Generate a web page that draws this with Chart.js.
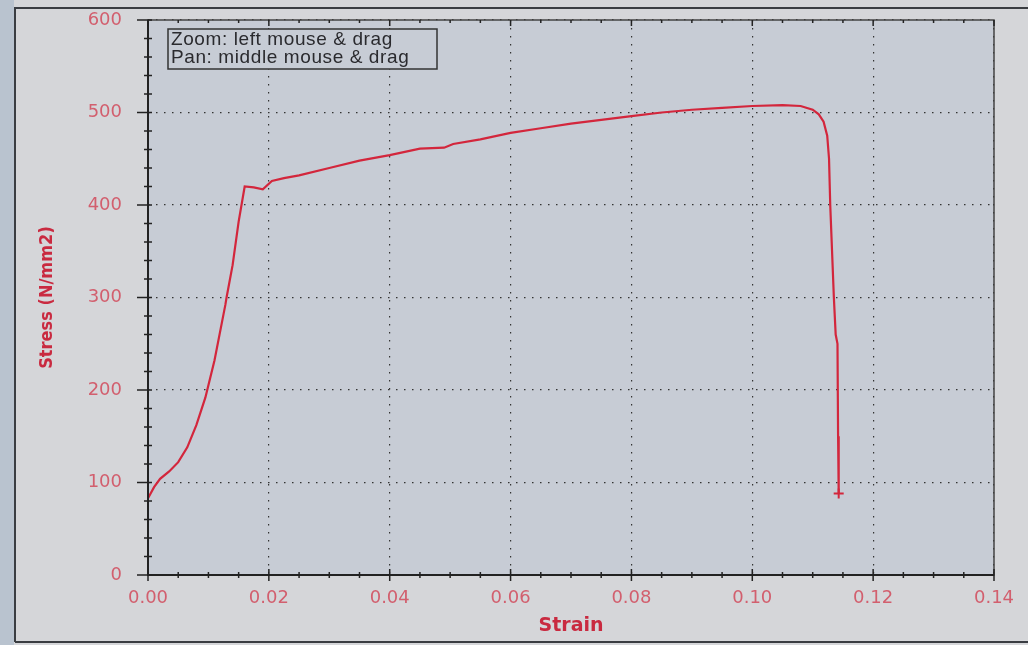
<!DOCTYPE html>
<html>
<head>
<meta charset="utf-8">
<script src="https://cdn.jsdelivr.net/npm/chart.js@4/dist/chart.umd.min.js"></script>
<style>
  html, body { margin: 0; padding: 0; background: #d5d6d9; }
  #wrap { width: 1028px; height: 645px; }
</style>
</head>
<body>
<div id="wrap"><canvas id="myChart" width="1028" height="645"></canvas></div>
<script>
// stress-strain test curve
const strain = [0, 0.001, 0.002, 0.0035, 0.005, 0.0065, 0.008, 0.0095, 0.011, 0.0125, 0.0128, 0.013, 0.014, 0.015, 0.016,
  0.0175, 0.019, 0.0205, 0.0225, 0.025, 0.03, 0.035, 0.04, 0.045, 0.049, 0.0505, 0.055, 0.06, 0.065, 0.07, 0.075,
  0.08, 0.085, 0.09, 0.095, 0.1, 0.105, 0.108, 0.11, 0.111, 0.1118, 0.1124, 0.1127, 0.1129, 0.1132, 0.1135, 0.1138,
  0.1141, 0.1142, 0.1143];
const stress = [83, 95, 104, 112, 122, 138, 162, 192, 232, 282, 292, 300, 335, 382, 420,
  419, 417, 426, 429, 432, 440, 448, 454, 461, 462, 466, 471, 478, 483, 488, 492,
  496, 500, 503, 505, 507, 508, 507, 503, 498, 490, 475, 450, 400, 350, 300, 260,
  250, 150, 88];

const xTicks = [0, 0.02, 0.04, 0.06, 0.08, 0.10, 0.12, 0.14];
const yTicks = [0, 100, 200, 300, 400, 500, 600];

const labelRed = '#d25f6e';
const titleRed = '#c92a40';

const points = strain.map((s, i) => ({ x: s, y: stress[i] }));

// plot background, outer frame, axes with minor ticks, hint box
const decor = {
  id: 'decor',
  beforeDraw(chart) {
    const { ctx, chartArea: a } = chart;
    ctx.save();
    ctx.fillStyle = '#d5d6d9';
    ctx.fillRect(0, 0, chart.width, chart.height);
    ctx.fillStyle = '#b9c3cf';
    ctx.fillRect(0, 0, 14, chart.height);
    ctx.strokeStyle = '#3a3d42';
    ctx.lineWidth = 2;
    ctx.beginPath();
    ctx.moveTo(15, chart.height - 3);
    ctx.lineTo(15, 8);
    ctx.lineTo(chart.width + 5, 8);
    ctx.stroke();
    ctx.beginPath();
    ctx.moveTo(15, chart.height - 3);
    ctx.lineTo(chart.width + 5, chart.height - 3);
    ctx.stroke();
    ctx.fillStyle = '#c7ccd5';
    ctx.fillRect(a.left, a.top, a.right - a.left, a.bottom - a.top);
    ctx.restore();
  },
  afterDatasetsDraw(chart) {
    const { ctx, chartArea: a, scales: { x, y } } = chart;
    ctx.save();
    // frame
    ctx.strokeStyle = '#444';
    ctx.lineWidth = 1.5;
    ctx.strokeRect(a.left, a.top, a.right - a.left, a.bottom - a.top);
    // main axes
    ctx.strokeStyle = '#222';
    ctx.lineWidth = 2;
    ctx.beginPath();
    ctx.moveTo(a.left, a.top);
    ctx.lineTo(a.left, a.bottom);
    ctx.lineTo(a.right, a.bottom);
    ctx.stroke();
    // y ticks
    ctx.lineWidth = 1.5;
    for (let v = 0; v <= 600; v += 20) {
      const py = y.getPixelForValue(v);
      const major = v % 100 === 0;
      ctx.beginPath();
      ctx.moveTo(a.left - (major ? 11 : 4), py);
      ctx.lineTo(a.left + 4, py);
      ctx.stroke();
    }
    // x ticks, bottom and top
    for (let i = 0; i <= 28; i++) {
      const px = x.getPixelForValue(i * 0.005);
      const major = i % 4 === 0;
      ctx.beginPath();
      ctx.moveTo(px, a.bottom - (major ? 6 : 3));
      ctx.lineTo(px, a.bottom + (major ? 6 : 3));
      ctx.stroke();
      ctx.beginPath();
      ctx.moveTo(px, a.top);
      ctx.lineTo(px, a.top + (major ? 6 : 3));
      ctx.stroke();
    }
    // hint box
    ctx.fillStyle = '#c7ccd5';
    ctx.fillRect(168, 29, 269, 40);
    ctx.strokeStyle = '#333';
    ctx.lineWidth = 1.5;
    ctx.strokeRect(168, 29, 269, 40);
    ctx.fillStyle = '#2a2a2e';
    ctx.font = '19px "Liberation Sans", Arial, sans-serif';
    ctx.letterSpacing = '0.6px';
    ctx.textBaseline = 'middle';
    ctx.fillText('Zoom: left mouse & drag', 171, 40);
    ctx.fillText('Pan: middle mouse & drag', 171, 58);
    ctx.restore();
  }
};

const ctx = document.getElementById('myChart').getContext('2d');

const chartConfig = {
  type: 'scatter',
  data: {
    datasets: [{
      data: points,
      showLine: true,
      borderColor: '#d3263c',
      backgroundColor: '#d3263c',
      borderWidth: 2.2,
      pointRadius: points.map((p, i) => i === points.length - 1 ? 5 : 0),
      pointStyle: 'cross',
      pointBorderWidth: 2,
      tension: 0
    }]
  },
  options: {
    responsive: false,
    animation: false,
    layout: { padding: { left: 0, top: 20, right: 34, bottom: 0 } },
    plugins: {
      legend: { display: false },
      tooltip: { enabled: false }
    },
    scales: {
      x: {
        type: 'linear',
        min: 0,
        max: 0.14,
        afterBuildTicks: scale => { scale.ticks = xTicks.map(v => ({ value: v })); },
        afterFit: scale => { scale.height = 70; },
        ticks: {
          color: labelRed,
          font: { family: 'DejaVu Sans', size: 18 },
          padding: 13,
          maxRotation: 0,
          callback: value => value.toFixed(2)
        },
        grid: { color: '#333', lineWidth: 1.2, drawTicks: false },
        border: { display: false, dash: [1.5, 6.5] },
        title: {
          display: true,
          text: 'Strain',
          color: titleRed,
          font: { family: 'DejaVu Sans', size: 19, weight: 'bold' },
          padding: { top: 0, bottom: 8 }
        }
      },
      y: {
        min: 0,
        max: 600,
        afterBuildTicks: scale => { scale.ticks = yTicks.map(v => ({ value: v })); },
        afterFit: scale => {
          scale.width = 148;
          scale.paddingTop = 0;
          scale.paddingBottom = 0;
        },
        ticks: {
          color: labelRed,
          font: { family: 'DejaVu Sans', size: 18 },
          padding: 26
        },
        grid: { color: '#333', lineWidth: 1.2, drawTicks: false },
        border: { display: false, dash: [1.5, 6.5] },
        title: {
          display: true,
          text: 'Stress (N/mm2)',
          color: titleRed,
          font: { family: 'DejaVu Sans Condensed, DejaVu Sans, sans-serif', size: 18, weight: 'bold' },
          padding: { top: 37, bottom: 0 }
        }
      }
    }
  },
  plugins: [decor]
};

const myChart = new Chart(ctx, chartConfig);
</script>
</body>
</html>
